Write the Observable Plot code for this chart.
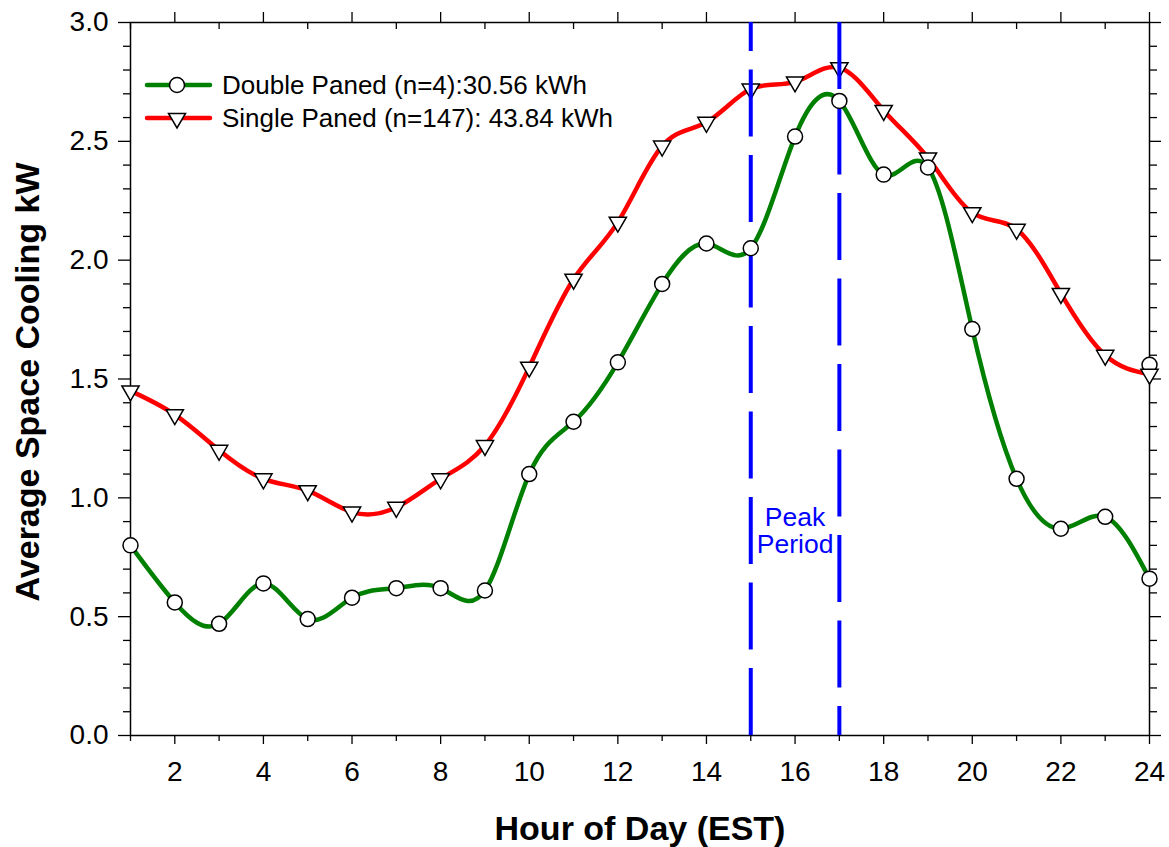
<!DOCTYPE html>
<html>
<head>
<meta charset="utf-8">
<script src="https://cdn.jsdelivr.net/npm/d3@7"></script>
<script src="https://cdn.jsdelivr.net/npm/@observablehq/plot@0.6"></script>
<style>
  html, body { margin: 0; padding: 0; background: #fff; }
  #wrap { position: relative; width: 1169px; height: 847px; font-family: "Liberation Sans", Arial, sans-serif; }
  #legend { position: absolute; left: 0; top: 0; pointer-events: none; }
</style>
</head>
<body>
<div id="wrap"></div>
<script>
// ---- data ----
const hours = [1,2,3,4,5,6,7,8,9,10,11,12,13,14,15,16,17,18,19,20,21,22,23,24];
const doublePaned = [0.80,0.56,0.47,0.64,0.49,0.58,0.62,0.62,0.61,1.10,1.32,1.57,1.90,2.07,2.05,2.52,2.67,2.36,2.39,1.71,1.08,0.87,0.92,0.66];
const singlePaned = [1.45,1.35,1.20,1.08,1.03,0.94,0.96,1.08,1.22,1.55,1.92,2.16,2.48,2.58,2.72,2.75,2.81,2.63,2.43,2.20,2.13,1.86,1.60,1.52];
const extraHour = [24];
const extraValue = [1.56];
const peakHours = [15, 17];
const peakLabel = "Peak\nPeriod";
const seriesNames = ["Double Paned (n=4):30.56 kWh", "Single Paned (n=147): 43.84 kWh"];
const xMajor = [2,4,6,8,10,12,14,16,18,20,22,24];
const xMinor = [1,3,5,7,9,11,13,15,17,19,21,23];
const yMajor = [0,0.5,1.0,1.5,2.0,2.5,3.0];
const yMinor = [0.1,0.2,0.3,0.4,0.6,0.7,0.8,0.9,1.1,1.2,1.3,1.4,1.6,1.7,1.8,1.9,2.1,2.2,2.3,2.4,2.6,2.7,2.8,2.9];

const dbl = hours.map((h, i) => ({hour: h, value: doublePaned[i]}));
const sgl = hours.map((h, i) => ({hour: h, value: singlePaned[i]}));
const extra = extraHour.map((h, i) => ({hour: h, value: extraValue[i]}));
// first line drawn bottom-up, second top-down (dash phase as in original)
const peaks = peakHours.map((h, i) => ({hour: h, y1: i === 0 ? 0 : 3, y2: i === 0 ? 3 : 0}));

const GREEN = "#008000", RED = "#ff0000", BLUE = "#0000ff";
const noText = () => "";

const chart = Plot.plot({
  width: 1169,
  height: 847,
  marginLeft: 130,
  marginRight: 20,
  marginTop: 22,
  marginBottom: 112,
  style: {fontFamily: "'Liberation Sans', Arial, sans-serif", background: "#fff", color: "#000"},
  x: {domain: [1, 24]},
  y: {domain: [0, 3]},
  marks: [
    // axes
    Plot.axisY({ticks: yMajor, tickSize: 12, tickPadding: 10, fontSize: 28, tickFormat: d3.format(".1f"), label: null, strokeWidth: 1.3}),
    Plot.axisY({ticks: yMinor, tickSize: 7, tickFormat: noText, label: null, strokeWidth: 1.3}),
    Plot.axisY({anchor: "right", ticks: yMajor, tickSize: 11, tickFormat: noText, label: null, strokeWidth: 1.3}),
    Plot.axisY({anchor: "right", ticks: yMinor, tickSize: 7, tickFormat: noText, label: null, strokeWidth: 1.3}),
    Plot.axisX({ticks: xMajor, tickSize: 9, tickPadding: 17, fontSize: 28, tickFormat: d => d, label: null, strokeWidth: 1.3}),
    Plot.axisX({ticks: xMinor, tickSize: 6, tickFormat: noText, label: null, strokeWidth: 1.3}),
    Plot.axisX({anchor: "top", ticks: xMajor, tickSize: 11, tickFormat: noText, label: null, strokeWidth: 1.3}),
    Plot.axisX({anchor: "top", ticks: xMinor, tickSize: -6, tickFormat: noText, label: null, strokeWidth: 1.3}),
    Plot.frame({stroke: "#000", strokeWidth: 1.5}),
    // single paned
    Plot.line(sgl, {x: "hour", y: "value", stroke: RED, strokeWidth: 4.5, curve: "natural"}),
    Plot.dot(extra, {x: "hour", y: "value", r: 7.5, fill: "#fff", stroke: "#000", strokeWidth: 1.5}),
    Plot.dot(sgl, {x: "hour", y: "value", symbol: "triangle", rotate: 180, r: 6.4, fill: "#fff", stroke: "#000", strokeWidth: 1.5}),
    // peak period rules
    Plot.ruleX(peaks, {x: "hour", y1: "y1", y2: "y2", stroke: BLUE, strokeWidth: 4, strokeDasharray: "67,18.5"}),
    Plot.text([peakLabel], {x: 16, y: 0.86, text: d => d, fill: BLUE, fontSize: 26.5, lineHeight: 1.02, textAnchor: "middle"}),
    // double paned
    Plot.line(dbl, {x: "hour", y: "value", stroke: GREEN, strokeWidth: 4.5, curve: "natural"}),
    Plot.dot(dbl, {x: "hour", y: "value", r: 7.5, fill: "#fff", stroke: "#000", strokeWidth: 1.5})
  ]
});

const wrap = document.getElementById("wrap");
wrap.appendChild(chart);

// legend and axis titles (SVG overlay)
const svgNS = "http://www.w3.org/2000/svg";
const ov = document.createElementNS(svgNS, "svg");
ov.setAttribute("id", "legend");
ov.setAttribute("width", 1169);
ov.setAttribute("height", 847);
ov.style.fontFamily = "'Liberation Sans', Arial, sans-serif";
function el(tag, attrs, text) {
  const e = document.createElementNS(svgNS, tag);
  for (const k in attrs) e.setAttribute(k, attrs[k]);
  if (text != null) e.textContent = text;
  ov.appendChild(e);
  return e;
}
const legendColors = [GREEN, RED];
legendColors.forEach((c, i) => {
  const y = 85 + i * 33;
  el("line", {x1: 147, x2: 210, y1: y, y2: y, stroke: c, "stroke-width": 4.5, "stroke-linecap": "round"});
  if (i === 0) {
    el("circle", {cx: 177, cy: y, r: 7.5, fill: "#fff", stroke: "#000", "stroke-width": 1.5});
  } else {
    el("path", {d: `M${177 - 8.5},${y - 4.5}L${177 + 8.5},${y - 4.5}L177,${y + 10}Z`, fill: "#fff", stroke: "#000", "stroke-width": 1.5});
  }
  el("text", {x: 222, y: y + 9, "font-size": 26, fill: "#000"}, seriesNames[i]);
});
el("text", {x: 640, y: 840, "font-size": 34, "font-weight": "bold", "text-anchor": "middle", fill: "#000"}, "Hour of Day (EST)");
el("text", {x: 0, y: 0, "font-size": 34, "font-weight": "bold", "text-anchor": "middle", fill: "#000",
  transform: "translate(39,382) rotate(-90)"}, "Average Space Cooling kW");
wrap.appendChild(ov);
</script>
</body>
</html>
